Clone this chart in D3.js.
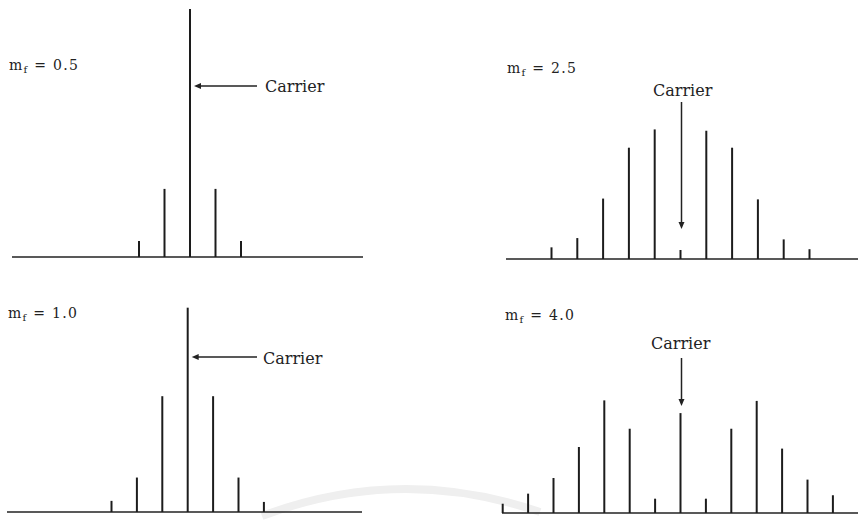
<!DOCTYPE html>
<html>
<head>
<meta charset="utf-8">
<script src="https://cdn.jsdelivr.net/npm/d3@7"></script>
<style>
  html, body { margin: 0; padding: 0; background: #fff; }
  svg { display: block; }
  .lbl { font-family: "DejaVu Serif", serif; font-size: 14px; fill: #222; letter-spacing: 1.3px; }
  .car { font-family: "DejaVu Serif", serif; font-size: 16px; fill: #222; }
</style>
</head>
<body>
<svg id="chart" width="858" height="520"></svg>
<script>
// spectra: sideband order and relative amplitude
const ordersA = [-2, -1, 0, 1, 2];
const ampsA = [0.06, 0.257, 0.936, 0.257, 0.06];          // mf = 0.5

const ordersB = [-5, -4, -3, -2, -1, 0, 1, 2, 3, 4, 5];
const ampsB = [0.044, 0.079, 0.228, 0.42, 0.489, 0.034, 0.484, 0.42, 0.225, 0.074, 0.037]; // mf = 2.5

const ordersC = [-3, -2, -1, 0, 1, 2, 3];
const ampsC = [0.042, 0.13, 0.437, 0.771, 0.437, 0.13, 0.038];  // mf = 1.0

const ordersD = [-7, -6, -5, -4, -3, -2, -1, 0, 1, 2, 3, 4, 5, 6];
const ampsD = [0.035, 0.073, 0.132, 0.249, 0.425, 0.318, 0.054, 0.377, 0.054, 0.318, 0.423, 0.243, 0.126, 0.067]; // mf = 4.0

const indexLabels = ["0.5", "2.5", "1.0", "4.0"];

const svg = d3.select("#chart");

// amplitude -> pixel height, shared by all four panels
const h = d3.scaleLinear().domain([0, 1]).range([0, 265]);

// faint watermark arc from the scan
svg.append("path")
    .attr("d", "M262,516 Q400,464 540,512")
    .attr("fill", "none")
    .attr("stroke", "#efefef")
    .attr("stroke-width", 8);

const panels = [
    { orders: ordersA, amps: ampsA, label: indexLabels[0], x0: 12, x1: 363, base: 257, cx: 190, step: 25.5,
      lx: 9, ly: 70, arrow: "h", ay: 86, aEnd: 257, tx: 265, ty: 92 },
    { orders: ordersB, amps: ampsB, label: indexLabels[1], x0: 506, x1: 858, base: 259, cx: 680.5, step: 25.8,
      lx: 507, ly: 73, arrow: "v", ay0: 102, ay1: 229, tx: 653, ty: 96 },
    { orders: ordersC, amps: ampsC, label: indexLabels[2], x0: 7, x1: 362, base: 512, cx: 187.7, step: 25.4,
      lx: 8, ly: 318, arrow: "h", ay: 357, aEnd: 257, tx: 263, ty: 364 },
    { orders: ordersD, amps: ampsD, label: indexLabels[3], x0: 502, x1: 858, base: 513, cx: 680.5, step: 25.4,
      lx: 505, ly: 320, arrow: "v", ay0: 358, ay1: 406, tx: 651, ty: 349 }
];

panels.forEach(p => {
    const g = svg.append("g");
    const x = d3.scaleLinear().domain([0, 1]).range([p.cx, p.cx + p.step]);
    const data = p.orders.map((o, i) => ({ n: o, a: p.amps[i] }));

    // baseline
    g.append("line")
        .attr("x1", p.x0).attr("x2", p.x1)
        .attr("y1", p.base).attr("y2", p.base)
        .attr("stroke", "#222").attr("stroke-width", 1.6);

    // spectral lines
    g.selectAll(".spike")
        .data(data)
        .join("line")
        .attr("class", "spike")
        .attr("x1", d => x(d.n)).attr("x2", d => x(d.n))
        .attr("y1", p.base)
        .attr("y2", d => p.base - h(d.a))
        .attr("stroke", "#1c1c1c")
        .attr("stroke-width", 2);

    // m_f label
    const t = g.append("text").attr("class", "lbl").attr("x", p.lx).attr("y", p.ly);
    t.append("tspan").text("m");
    t.append("tspan").attr("dy", 3).attr("font-size", "10px").text("f");
    t.append("tspan").attr("dy", -3).text(" = " + p.label);

    // carrier arrow
    if (p.arrow === "h") {
        const tip = p.cx + 4;
        g.append("line")
            .attr("x1", tip + 5).attr("x2", p.aEnd)
            .attr("y1", p.ay).attr("y2", p.ay)
            .attr("stroke", "#222").attr("stroke-width", 1.3);
        g.append("path")
            .attr("d", `M${tip},${p.ay} l7,-3 l0,6 z`)
            .attr("fill", "#222");
    } else {
        g.append("line")
            .attr("x1", p.cx + 1).attr("x2", p.cx + 1)
            .attr("y1", p.ay0).attr("y2", p.ay1 - 5)
            .attr("stroke", "#222").attr("stroke-width", 1.5);
        g.append("path")
            .attr("d", `M${p.cx + 1},${p.ay1} l-3,-7 l6,0 z`)
            .attr("fill", "#222");
    }
    g.append("text").attr("class", "car")
        .attr("x", p.tx).attr("y", p.ty)
        .text("Carrier");
});
</script>
</body>
</html>
